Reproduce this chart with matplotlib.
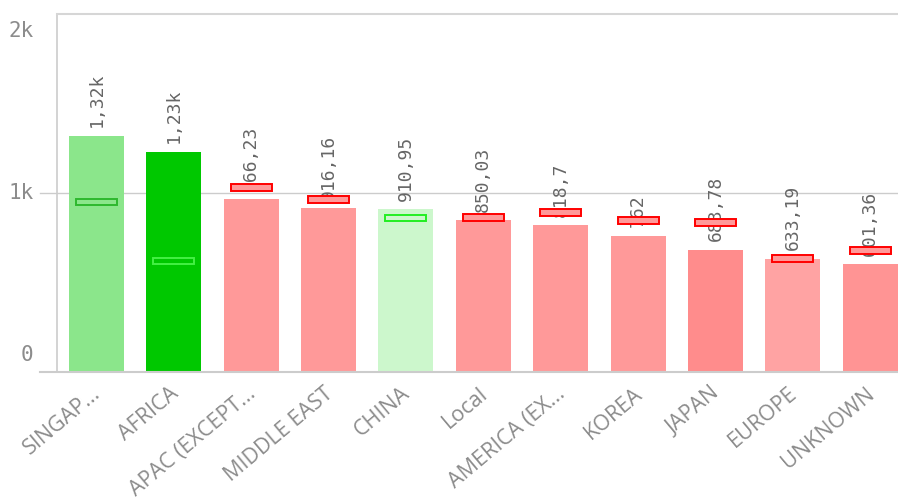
import matplotlib
matplotlib.use("Agg")
import matplotlib.pyplot as plt
import matplotlib.transforms as mtransforms
import numpy as np

# regions, sorted by sales
regions = ["SINGAP...", "AFRICA", "APAC (EXCEPT...", "MIDDLE EAST", "CHINA", "Local",
           "AMERICA (EX...", "KOREA", "JAPAN", "EUROPE", "UNKNOWN"]
sales = [1320, 1230, 966.23, 916.16, 910.95, 850.03, 818.7, 762, 683.78, 633.19, 601.36]
targets = [950, 620, 1030, 962, 860, 862, 893, 848, 836, 636, 680]

bar_colors = ["#8be68b", "#00c800", "#ff9999", "#ff9999", "#ccf7cc", "#ff9999",
              "#ff9999", "#ff9999", "#ff8c8c", "#ffa3a3", "#ff9494"]
marker_edges = ["#2eb82e", "#44f044", "#ff0000", "#ff0000", "#22ee22", "#ff0000",
                "#ff0000", "#ff0000", "#ff0000", "#ff0000", "#ff0000"]
marker_faces = ["#8be68b", "#00c800", "#ff9999", "#ff9999", "#ccf7cc", "#ff9999",
                "#ff9999", "#ff9999", "#ff9999", "#ff9999", "#ff9999"]

y_ticks = [0, 1000, 2000]
y_tick_labels = ["0", "1k", "2k"]


def fmt(v):
        if v >= 1000:
                return ("%.2fk" % (v / 1000)).replace(".", ",")
        s = ("%.2f" % v).rstrip("0").rstrip(".")
        return s.replace(".", ",")


W, H = 898, 504
fig = plt.figure(figsize=(W / 100, H / 100), dpi=100)
ax = fig.add_axes([57 / W, (H - 372) / H, (W - 57) / W, (372 - 14) / H])

x = np.arange(len(regions))
ax.bar(x, sales, width=0.71, color=bar_colors, zorder=2)

# target markers
mh = 38
ax.bar(x, [mh] * len(x), bottom=[t - mh / 2 for t in targets], width=0.53,
       color=marker_faces, edgecolor=marker_edges, linewidth=1.4, zorder=4)

for i, v in enumerate(sales):
        ax.annotate(fmt(v), (x[i], v), xytext=(0, 6), textcoords="offset points",
                    rotation=90, ha="center", va="bottom", fontsize=13,
                    family="DejaVu Sans Mono", color="#666666", zorder=3)

ax.set_xlim(-0.51, 10.36)
ax.set_ylim(0, 2000)

for s in ["right", "bottom"]:
        ax.spines[s].set_visible(False)
ax.spines["left"].set_color("#cccccc")
ax.spines["top"].set_color("#d6d6d6")
ax.spines["left"].set_linewidth(1.2)
ax.spines["top"].set_linewidth(1.5)
# gridline and baseline run a little past the axis on the left
ax.axhline(1000, xmin=-0.02, color="#cccccc", linewidth=1, zorder=1, clip_on=False)
ax.axhline(0, xmin=-0.02, color="#cccccc", linewidth=1.5, zorder=5, clip_on=False)

ax.set_yticks([])
offsets = [12, 0, -12]
for t, lab, off in zip(y_ticks, y_tick_labels, offsets):
        ax.annotate(lab, (0, t), xycoords=("axes fraction", "data"),
                    xytext=(-17, off), textcoords="offset points",
                    ha="right", va="center", fontsize=15,
                    family="DejaVu Sans Mono", color="#8c8c8c")

ax.set_xticks(x)
ax.set_xticklabels(regions, rotation=40, ha="right", rotation_mode="anchor",
                   fontsize=15.5, family="Open Sans", color="#8c8c8c")
ax.tick_params(axis="x", length=0, pad=8)
shift = mtransforms.ScaledTranslation(-5 / 100, 0, fig.dpi_scale_trans)
for lbl in ax.get_xticklabels():
        lbl.set_transform(lbl.get_transform() + shift)

fig.savefig("out.png", dpi=100)
